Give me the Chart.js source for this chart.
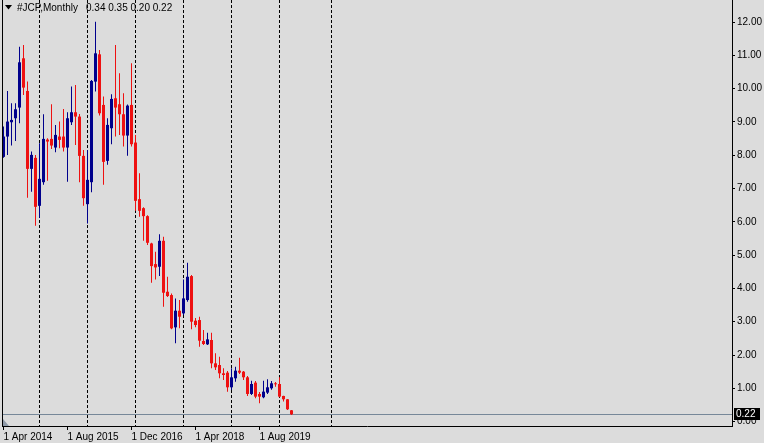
<!DOCTYPE html>
<html>
<head>
<meta charset="utf-8">
<script src="https://cdn.jsdelivr.net/npm/chart.js@4.4.0/dist/chart.umd.min.js"></script>
<style>
  html, body { margin: 0; padding: 0; background: #dcdcdc; }
  #wrap { width: 764px; height: 443px; }
</style>
</head>
<body>
<div id="wrap"><canvas id="chart" width="764" height="443"></canvas></div>
<script>
// JCP monthly candles, first bar = Apr 2014
const symbol = '#JCP,Monthly';
const open  = [7.95, 8.56, 8.99, 9.11, 9.43, 10.91, 9.93, 7.59, 7.92, 6.48, 7.19, 8.47, 8.49, 8.23, 8.56, 8.56,
               8.23, 8.99, 9.29, 9.16, 7.98, 6.53, 7.19, 10.21, 11.03, 9.51, 7.83, 8.81, 9.71, 9.53, 9.23, 8.59,
               9.51, 8.38, 6.68, 6.41, 6.17, 5.35, 4.73, 4.65, 5.43, 3.90, 3.80, 2.83, 3.33, 3.25, 3.65, 4.37,
               3.03, 3.05, 2.42, 2.32, 2.45, 1.75, 1.70, 1.45, 1.47, 1.03, 1.30, 1.53, 1.50, 1.33, 0.83, 1.17,
               0.83, 0.73, 0.87, 1.00, 1.15, 1.13, 0.77, 0.67, 0.34];
const high  = [8.86, 9.93, 9.56, 9.56, 11.26, 11.31, 10.21, 8.11, 8.01, 8.36, 9.23, 8.51, 9.53, 8.91, 9.01, 9.39,
               9.29, 10.06, 10.11, 9.24, 8.16, 8.16, 10.26, 12.01, 11.16, 9.76, 9.11, 9.83, 11.31, 10.46, 9.86, 9.52,
               10.76, 8.61, 7.46, 6.44, 6.20, 5.37, 5.10, 5.63, 5.55, 4.35, 3.85, 3.70, 3.65, 4.27, 4.77, 4.40,
               3.11, 3.15, 2.75, 2.67, 2.67, 2.05, 1.95, 1.60, 1.52, 1.60, 1.65, 1.92, 1.52, 1.37, 1.23, 1.22,
               0.89, 1.23, 1.27, 1.22, 1.19, 1.33, 0.78, 0.68, 0.35];
const low   = [7.92, 8.01, 8.29, 8.43, 8.96, 9.81, 6.72, 6.90, 5.88, 6.12, 7.11, 7.23, 8.19, 8.09, 8.21, 8.11,
               7.20, 8.91, 8.31, 7.19, 6.48, 5.95, 6.89, 9.91, 9.19, 7.11, 7.71, 8.33, 8.56, 8.61, 8.26, 7.98,
               8.26, 6.33, 6.15, 5.43, 5.30, 4.17, 4.27, 4.37, 3.45, 3.74, 2.77, 2.35, 2.80, 3.20, 3.60, 2.77,
               2.83, 2.25, 2.30, 2.30, 1.60, 1.55, 1.30, 1.25, 0.90, 0.95, 1.20, 1.43, 1.25, 0.77, 0.80, 0.70,
               0.55, 0.70, 0.83, 0.96, 1.05, 0.73, 0.60, 0.35, 0.20];
const close = [8.56, 9.01, 9.06, 9.38, 10.79, 10.03, 7.59, 8.01, 6.45, 7.29, 8.49, 8.41, 8.29, 8.61, 8.46, 8.23,
               9.11, 9.29, 9.16, 7.98, 6.71, 7.26, 10.23, 11.06, 9.26, 7.80, 8.91, 9.69, 9.43, 9.23, 8.59, 9.49,
               8.33, 6.63, 6.33, 6.17, 5.37, 4.67, 4.63, 5.43, 3.87, 3.77, 2.80, 3.33, 3.15, 3.70, 4.35, 3.00,
               2.90, 2.43, 2.33, 2.47, 1.75, 1.63, 1.45, 1.40, 1.03, 1.33, 1.53, 1.47, 1.33, 0.83, 1.13, 0.75,
               0.75, 0.90, 1.03, 1.15, 1.12, 0.75, 0.67, 0.37, 0.22];

const tickBars   = [0, 16, 32, 48, 64];
const tickLabels = ['1 Apr 2014', '1 Aug 2015', '1 Dec 2016', '1 Apr 2018', '1 Aug 2019'];
const gridBars   = [9, 21, 33, 45, 57, 69, 82];
const priceTicks = [0, 1, 2, 3, 4, 5, 6, 7, 8, 9, 10, 11, 12];

const upColor = '#00008c';
const downColor = '#ee1111';
const colors = open.map((o, i) => close[i] >= o ? upColor : downColor);
const last = close.length - 1;

const xMin = -0.375, xMax = 182.125;

Chart.defaults.font.family = '"Liberation Sans", Arial, sans-serif';
Chart.defaults.font.size = 10;
Chart.defaults.color = '#000';

const overlay = {
  id: 'mtOverlay',
  beforeDatasetsDraw(chart) {
    const {ctx, chartArea: a, scales: {y}} = chart;
    const py = Math.round(y.getPixelForValue(close[last])) + 0.5;
    ctx.save();
    ctx.strokeStyle = '#778899';
    ctx.lineWidth = 1;
    ctx.beginPath();
    ctx.moveTo(a.left, py);
    ctx.lineTo(a.right, py);
    ctx.stroke();
    ctx.restore();
  },
  afterDraw(chart) {
    const {ctx, chartArea: a, scales: {y}} = chart;
    ctx.save();
    // left frame line
    ctx.strokeStyle = '#000';
    ctx.lineWidth = 1;
    ctx.beginPath();
    ctx.moveTo(a.left + 0.5, a.top);
    ctx.lineTo(a.left + 0.5, a.bottom);
    ctx.stroke();

    // last price tag
    const py = Math.round(y.getPixelForValue(close[last]));
    ctx.fillStyle = '#000';
    ctx.fillRect(a.right + 2, py - 6, 26, 12);
    ctx.fillStyle = '#fff';
    ctx.textBaseline = 'middle';
    ctx.textAlign = 'left';
    ctx.font = '10px "Liberation Sans", Arial, sans-serif';
    ctx.fillText(close[last].toFixed(2), a.right + 4, py + 0.5);

    // header
    ctx.fillStyle = '#000';
    ctx.beginPath();
    ctx.moveTo(5, 5); ctx.lineTo(12, 5); ctx.lineTo(8.5, 9.5);
    ctx.closePath();
    ctx.fill();
    ctx.font = '10px "Liberation Sans", Arial, sans-serif';
    ctx.fillText(symbol, 17, 8);
    const ohlc = [open[last], high[last], low[last], close[last]].map(v => v.toFixed(2)).join(' ');
    ctx.fillText(ohlc, 86, 8);

    // corner marker
    ctx.fillStyle = '#8f9aa8';
    ctx.beginPath();
    ctx.moveTo(a.left + 1, a.bottom - 7);
    ctx.lineTo(a.left + 7, a.bottom);
    ctx.lineTo(a.left + 1, a.bottom);
    ctx.closePath();
    ctx.fill();
    ctx.restore();
  }
};

new Chart(document.getElementById('chart'), {
  type: 'bar',
  data: {
    datasets: [
      {
        label: 'wick',
        data: low.map((l, i) => ({x: i, y: [l, high[i]]})),
        backgroundColor: colors,
        barThickness: 1,
        grouped: false,
        inflateAmount: 0,
        xAxisID: 'x',
        order: 2
      },
      {
        label: 'body',
        data: open.map((o, i) => ({x: i, y: [o, close[i]]})),
        backgroundColor: colors,
        barThickness: 3,
        minBarLength: 1,
        grouped: false,
        inflateAmount: 0,
        xAxisID: 'x',
        order: 1
      }
    ]
  },
  options: {
    responsive: false,
    devicePixelRatio: 1,
    animation: false,
    layout: { padding: { left: 2, top: 0, right: 0, bottom: 0 } },
    plugins: { legend: { display: false }, tooltip: { enabled: false } },
    scales: {
      x: {
        type: 'linear',
        min: xMin,
        max: xMax,
        offset: false,
        afterBuildTicks: s => { s.ticks = tickBars.map(v => ({value: v})); },
        afterFit: s => { s.height = 17; s.paddingLeft = 0; s.paddingRight = 0; },
        grid: { offset: false, drawOnChartArea: false, drawTicks: true, tickLength: 4, color: '#000' },
        border: { display: true, color: '#000' },
        ticks: {
          align: 'start',
          maxRotation: 0,
          autoSkip: false,
          padding: 1,
          color: '#000',
          callback: v => tickLabels[tickBars.indexOf(v)]
        }
      },
      xg: {
        type: 'linear',
        position: 'bottom',
        min: xMin,
        max: xMax,
        offset: false,
        afterBuildTicks: s => { s.ticks = gridBars.map(v => ({value: v})); },
        afterFit: s => { s.height = 0; s.paddingLeft = 0; s.paddingRight = 0; },
        ticks: { display: false },
        grid: { offset: false, drawTicks: false, color: '#000', lineWidth: 1 },
        border: { display: false, dash: [3, 2] }
      },
      y: {
        position: 'right',
        min: -0.132,
        max: 12.661,
        afterBuildTicks: s => { s.ticks = priceTicks.map(v => ({value: v})); },
        afterFit: s => { s.width = 32; s.paddingTop = 0; s.paddingBottom = 0; },
        grid: { drawOnChartArea: false, tickLength: 3, color: '#000' },
        border: { display: true, color: '#000' },
        ticks: {
          crossAlign: 'near',
          padding: 2,
          color: '#000',
          callback: v => v.toFixed(2)
        }
      }
    }
  },
  plugins: [overlay]
});
</script>
</body>
</html>
